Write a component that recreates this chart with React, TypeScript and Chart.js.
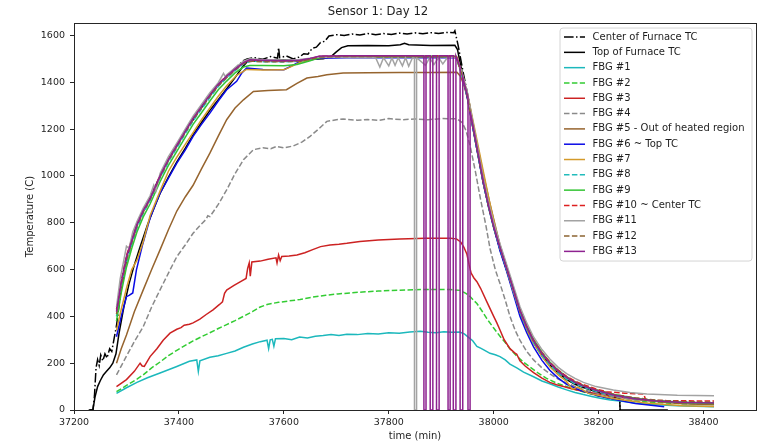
import React, { useEffect, useRef } from 'react';
import { Chart, registerables } from 'chart.js';

Chart.register(...registerables);

type Pt = [number, number];

// time (min), temperature (C)
const centerTc: Pt[] = [
  [37228, 0], [37236, 0], [37239, 60], [37242, 180], [37245, 215], [37248, 190], [37251, 235], [37255, 210],
  [37259, 240], [37263, 222], [37268, 262], [37272, 250], [37276, 300], [37281, 360], [37290, 520], [37300, 640],
  [37310, 720], [37320, 790], [37332, 850], [37345, 905], [37364, 1000], [37380, 1070], [37396, 1128], [37412, 1190],
  [37427, 1240], [37443, 1292], [37459, 1342], [37475, 1390], [37491, 1425], [37507, 1460], [37523, 1492], [37530, 1500],
  [37545, 1505], [37560, 1498], [37575, 1510], [37588, 1503], [37590, 1548], [37592, 1505], [37605, 1512], [37618, 1500],
  [37630, 1508], [37638, 1522], [37646, 1520], [37654, 1545], [37662, 1550], [37670, 1570], [37678, 1575], [37686, 1598],
  [37700, 1603], [37715, 1600], [37730, 1606], [37745, 1602], [37760, 1608], [37775, 1603], [37790, 1608], [37805, 1604],
  [37820, 1610], [37835, 1606], [37850, 1611], [37865, 1607], [37880, 1612], [37895, 1608], [37910, 1613], [37924, 1612],
  [37926, 1620], [37932, 1560], [37942, 1440], [37952, 1330], [37962, 1200], [37972, 1080], [37982, 965], [37992, 865],
  [38002, 775], [38012, 690], [38025, 600], [38037, 515], [38050, 420], [38063, 350], [38076, 292], [38092, 238],
  [38107, 198], [38123, 162], [38139, 135], [38155, 115], [38171, 100], [38195, 80], [38220, 62], [38240, 52], [38241, 0],
];

const topTc: Pt[] = [
  [37230, 0], [37236, 0], [37240, 55], [37245, 100], [37250, 125], [37256, 150], [37262, 165], [37268, 180],
  [37274, 200], [37280, 240], [37286, 330], [37295, 440], [37305, 540], [37315, 620], [37325, 690], [37340, 790],
  [37352, 860], [37364, 925], [37380, 995], [37396, 1060], [37412, 1118], [37427, 1175], [37443, 1228], [37459, 1280],
  [37475, 1325], [37491, 1372], [37507, 1420], [37520, 1462], [37530, 1488], [37560, 1494], [37600, 1496], [37640, 1497],
  [37675, 1500], [37690, 1510], [37700, 1530], [37710, 1548], [37722, 1556], [37760, 1557], [37800, 1556], [37822, 1560],
  [37830, 1566], [37838, 1560], [37880, 1557], [37926, 1558], [37931, 1540], [37940, 1440], [37950, 1335], [37960, 1210],
  [37970, 1090], [37980, 970], [37990, 870], [38000, 780], [38012, 685], [38025, 595], [38037, 510], [38050, 415],
  [38063, 345], [38076, 288], [38092, 232], [38107, 192], [38123, 158], [38139, 130], [38155, 110], [38171, 96],
  [38195, 78], [38220, 60], [38240, 50], [38241, 0], [38332, 0],
];

const fbg1: Pt[] = [
  [37281, 71], [37300, 95], [37320, 118], [37340, 138], [37364, 158], [37396, 186], [37420, 208], [37434, 214],
  [37437, 165], [37440, 210], [37459, 225], [37475, 232], [37491, 242], [37507, 252], [37523, 268], [37540, 282],
  [37555, 292], [37568, 298], [37571, 262], [37574, 300], [37578, 302], [37581, 272], [37584, 304], [37600, 305],
  [37615, 300], [37630, 312], [37645, 308], [37660, 315], [37675, 318], [37690, 322], [37705, 318], [37720, 324],
  [37740, 322], [37760, 327], [37780, 325], [37800, 330], [37820, 328], [37840, 333], [37860, 336], [37875, 332],
  [37890, 330], [37905, 334], [37920, 332], [37935, 333], [37944, 325], [37952, 310], [37960, 296], [37968, 272],
  [37975, 264], [37982, 256], [37993, 242], [38003, 236], [38012, 228], [38022, 214], [38031, 196], [38044, 180],
  [38057, 162], [38076, 142], [38092, 124], [38107, 112], [38123, 98], [38139, 86], [38155, 75], [38171, 66],
  [38187, 58], [38203, 50], [38222, 43], [38241, 38], [38270, 30], [38300, 24], [38350, 18], [38420, 14],
];

const fbg2: Pt[] = [
  [37281, 78], [37300, 105], [37320, 132], [37332, 150], [37348, 180], [37364, 205], [37380, 232], [37396, 255],
  [37412, 276], [37427, 295], [37443, 313], [37459, 330], [37475, 348], [37491, 365], [37507, 382], [37523, 400],
  [37540, 420], [37555, 440], [37570, 452], [37590, 460], [37610, 466], [37631, 472], [37655, 482], [37680, 490],
  [37703, 496], [37726, 500], [37750, 504], [37780, 508], [37821, 512], [37870, 515], [37917, 515], [37936, 511],
  [37947, 498], [37955, 485], [37962, 468], [37968, 455], [37978, 422], [37987, 390], [38000, 350], [38012, 315],
  [38022, 288], [38031, 262], [38044, 230], [38057, 204], [38070, 182], [38085, 158], [38100, 136], [38120, 115],
  [38139, 100], [38155, 88], [38170, 78], [38187, 67], [38203, 58], [38225, 48], [38250, 42], [38300, 33],
  [38360, 27], [38420, 25],
];

const fbg3: Pt[] = [
  [37281, 100], [37300, 130], [37315, 165], [37326, 200], [37330, 188], [37334, 186], [37345, 228], [37358, 262],
  [37370, 298], [37383, 328], [37396, 345], [37404, 352], [37410, 362], [37420, 366], [37427, 372], [37440, 388],
  [37452, 408], [37465, 428], [37478, 452], [37483, 462], [37487, 498], [37491, 512], [37505, 532], [37520, 552],
  [37528, 562], [37531, 605], [37534, 628], [37536, 572], [37539, 632], [37555, 636], [37570, 644], [37585, 650],
  [37587, 628], [37590, 662], [37593, 638], [37596, 656], [37610, 658], [37625, 662], [37640, 672], [37655, 685],
  [37670, 698], [37688, 705], [37705, 708], [37720, 712], [37745, 720], [37780, 726], [37821, 731], [37870, 734],
  [37917, 734], [37929, 731], [37937, 718], [37943, 696], [37949, 665], [37953, 622], [37957, 585], [37962, 565],
  [37968, 548], [37975, 520], [37987, 462], [38000, 400], [38006, 372], [38012, 342], [38020, 300], [38031, 262],
  [38040, 244], [38044, 238], [38050, 210], [38060, 188], [38076, 160], [38092, 136], [38107, 118], [38120, 108],
  [38133, 100], [38150, 90], [38170, 80], [38200, 68], [38228, 58], [38260, 48], [38300, 40], [38360, 33], [38420, 30],
];

const fbg4: Pt[] = [
  [37281, 150], [37300, 230], [37315, 292], [37332, 356], [37348, 440], [37364, 513], [37380, 585], [37396, 655],
  [37412, 705], [37427, 755], [37443, 795], [37452, 815], [37455, 830], [37459, 826], [37475, 878], [37491, 940],
  [37507, 1010], [37523, 1069], [37542, 1112], [37560, 1120], [37575, 1116], [37586, 1126], [37600, 1120], [37618, 1128],
  [37635, 1145], [37650, 1169], [37666, 1200], [37682, 1233], [37700, 1240], [37713, 1243], [37740, 1238], [37760, 1241],
  [37780, 1237], [37800, 1245], [37825, 1240], [37850, 1243], [37875, 1240], [37900, 1245], [37930, 1244], [37940, 1228],
  [37947, 1195], [37955, 1130], [37965, 1020], [37975, 900], [37985, 790], [37993, 690], [38003, 600], [38012, 540],
  [38022, 470], [38031, 400], [38041, 340], [38050, 298], [38063, 250], [38076, 214], [38092, 180], [38107, 155],
  [38123, 132], [38139, 115], [38160, 96], [38180, 82], [38205, 68], [38230, 56], [38260, 46], [38300, 38],
  [38360, 31], [38420, 28],
];

const fbg5: Pt[] = [
  [37281, 200], [37290, 262], [37300, 320], [37315, 420], [37332, 513], [37348, 600], [37364, 684], [37380, 770],
  [37396, 850], [37412, 910], [37427, 960], [37443, 1030], [37459, 1097], [37475, 1170], [37491, 1240], [37507, 1290],
  [37523, 1325], [37542, 1361], [37570, 1365], [37605, 1368], [37625, 1395], [37644, 1418], [37665, 1425], [37682, 1432],
  [37713, 1440], [37760, 1441], [37820, 1442], [37880, 1442], [37930, 1443], [37937, 1425], [37945, 1375], [37955, 1285],
  [37968, 1140], [37980, 1010], [37993, 880], [38006, 760], [38012, 705], [38025, 612], [38037, 522], [38050, 432],
  [38063, 362], [38076, 302], [38092, 246], [38107, 202], [38123, 166], [38139, 138], [38160, 112], [38190, 88],
  [38230, 65], [38270, 48], [38310, 36], [38360, 27], [38420, 22],
];

const fbg6: Pt[] = [
  [37281, 313], [37290, 400], [37300, 484], [37305, 490], [37312, 500], [37319, 599], [37330, 700], [37345, 820],
  [37364, 926], [37380, 990], [37396, 1055], [37412, 1110], [37427, 1169], [37443, 1220], [37459, 1268], [37475, 1320],
  [37491, 1368], [37510, 1404], [37520, 1440], [37529, 1461], [37560, 1455], [37600, 1454], [37615, 1470], [37631, 1489],
  [37669, 1503], [37720, 1505], [37800, 1505], [37880, 1505], [37930, 1506], [37940, 1430], [37950, 1330], [37960, 1210],
  [37970, 1090], [37980, 970], [37990, 870], [38000, 780], [38012, 680], [38025, 590], [38037, 500], [38050, 400],
  [38063, 330], [38076, 270], [38092, 212], [38107, 170], [38123, 136], [38139, 110], [38165, 84], [38200, 60],
  [38241, 40], [38270, 28], [38300, 20], [38325, 14],
];

const fbg7: Pt[] = [
  [37281, 340], [37290, 430], [37300, 520], [37310, 600], [37320, 640], [37332, 720], [37345, 830], [37364, 935],
  [37380, 1020], [37396, 1080], [37412, 1135], [37427, 1185], [37443, 1240], [37459, 1290], [37475, 1340], [37491, 1385],
  [37510, 1430], [37529, 1455], [37560, 1452], [37600, 1453], [37615, 1468], [37631, 1485], [37669, 1506], [37720, 1508],
  [37800, 1508], [37880, 1509], [37930, 1508], [37942, 1420], [37952, 1330], [37962, 1220], [37972, 1110], [37982, 1000],
  [37992, 890], [38002, 790], [38012, 700], [38025, 600], [38037, 510], [38050, 420], [38063, 345], [38076, 285],
  [38092, 228], [38107, 185], [38123, 150], [38139, 122], [38150, 88], [38160, 98], [38180, 72], [38230, 48],
  [38290, 30], [38360, 18], [38420, 15],
];

const fbg8: Pt[] = [
  [37281, 400], [37290, 520], [37300, 630], [37310, 705], [37320, 775], [37332, 840], [37345, 895], [37364, 990],
  [37380, 1060], [37396, 1120], [37412, 1180], [37427, 1235], [37443, 1285], [37459, 1335], [37475, 1382], [37491, 1418],
  [37507, 1450], [37523, 1478], [37535, 1490], [37560, 1488], [37600, 1487], [37630, 1490], [37650, 1498], [37669, 1508],
  [37720, 1510], [37800, 1510], [37880, 1511], [37928, 1510], [37940, 1425], [37950, 1335], [37960, 1212], [37970, 1092],
  [37980, 972], [37990, 868], [38000, 778], [38012, 688], [38025, 598], [38037, 512], [38050, 418], [38063, 348],
  [38076, 288], [38092, 233], [38107, 193], [38123, 158], [38139, 132], [38155, 112], [38171, 97], [38195, 80],
  [38230, 62], [38270, 48], [38310, 40], [38360, 33], [38420, 30],
];

const fbg9: Pt[] = [
  [37281, 380], [37290, 500], [37300, 610], [37310, 690], [37320, 760], [37332, 825], [37345, 880], [37364, 975],
  [37380, 1045], [37396, 1105], [37412, 1165], [37427, 1220], [37443, 1270], [37459, 1320], [37475, 1368], [37491, 1405],
  [37507, 1440], [37523, 1465], [37535, 1472], [37560, 1472], [37600, 1471], [37625, 1476], [37650, 1492], [37669, 1506],
  [37720, 1510], [37800, 1510], [37880, 1510], [37928, 1510], [37940, 1432], [37950, 1342], [37960, 1222], [37970, 1100],
  [37980, 982], [37990, 878], [38000, 790], [38012, 700], [38025, 610], [38037, 525], [38050, 432], [38063, 362],
  [38076, 300], [38092, 245], [38107, 205], [38123, 170], [38139, 142], [38155, 120], [38171, 104], [38195, 86],
  [38230, 66], [38270, 50], [38310, 40], [38360, 32], [38420, 28],
];

const fbg10: Pt[] = [
  [37281, 430], [37290, 550], [37300, 660], [37310, 728], [37320, 795], [37332, 855], [37345, 905], [37364, 1002],
  [37380, 1072], [37396, 1132], [37412, 1192], [37427, 1248], [37443, 1298], [37459, 1348], [37475, 1393], [37491, 1428],
  [37507, 1458], [37523, 1485], [37535, 1495], [37560, 1493], [37600, 1491], [37630, 1493], [37650, 1501], [37669, 1511],
  [37720, 1513], [37800, 1513], [37880, 1513], [37928, 1513], [37940, 1435], [37950, 1345], [37960, 1222], [37970, 1102],
  [37980, 982], [37990, 878], [38000, 788], [38012, 698], [38025, 608], [38037, 522], [38050, 428], [38063, 358],
  [38076, 298], [38092, 244], [38107, 204], [38123, 170], [38139, 144], [38155, 124], [38171, 108], [38195, 90],
  [38215, 78], [38250, 72], [38286, 68], [38290, 42], [38330, 40], [38420, 38],
];

const fbg11: Pt[] = [
  [37281, 440], [37288, 560], [37295, 640], [37300, 700], [37305, 690], [37312, 760], [37320, 805], [37332, 862],
  [37345, 915], [37352, 960], [37356, 935], [37364, 1010], [37380, 1082], [37396, 1140], [37412, 1200], [37427, 1255],
  [37443, 1305], [37459, 1355], [37475, 1398], [37485, 1438], [37488, 1425], [37491, 1432], [37507, 1462], [37523, 1490],
  [37535, 1500], [37560, 1497], [37600, 1495], [37630, 1497], [37650, 1503], [37669, 1508], [37720, 1506], [37775, 1505],
  [37783, 1465], [37790, 1505], [37800, 1470], [37806, 1504], [37812, 1472], [37818, 1505], [37826, 1470], [37832, 1505],
  [37838, 1468], [37845, 1504], [37849, 1504], [37849, 0], [37853, 0], [37853, 1505], [37870, 1472], [37878, 1505],
  [37886, 1475], [37895, 1505], [37903, 1478], [37912, 1506], [37928, 1508], [37940, 1440], [37950, 1355], [37960, 1235],
  [37970, 1115], [37980, 995], [37990, 890], [38000, 800], [38012, 710], [38025, 620], [38037, 535], [38050, 442],
  [38063, 372], [38076, 312], [38092, 258], [38107, 218], [38123, 182], [38139, 155], [38155, 135], [38171, 118],
  [38195, 100], [38228, 85], [38260, 75], [38292, 68], [38350, 63], [38420, 61],
];

const fbg12: Pt[] = [
  [37281, 410], [37290, 530], [37300, 640], [37310, 715], [37320, 785], [37332, 845], [37345, 898], [37364, 995],
  [37380, 1065], [37396, 1125], [37412, 1185], [37427, 1240], [37443, 1290], [37459, 1340], [37475, 1385], [37491, 1420],
  [37507, 1452], [37523, 1480], [37535, 1490], [37560, 1488], [37600, 1488], [37630, 1490], [37650, 1498], [37669, 1508],
  [37720, 1510], [37800, 1510], [37880, 1510], [37928, 1510], [37940, 1428], [37950, 1338], [37960, 1215], [37970, 1095],
  [37980, 975], [37990, 872], [38000, 782], [38012, 692], [38025, 602], [38037, 518], [38050, 424], [38063, 354],
  [38076, 294], [38092, 240], [38107, 200], [38123, 166], [38139, 140], [38155, 120], [38171, 104], [38195, 86],
  [38230, 66], [38270, 52], [38310, 42], [38360, 36], [38420, 33],
];

const fbg13: Pt[] = [
  [37281, 420], [37290, 545], [37300, 655], [37310, 722], [37320, 792], [37332, 852], [37345, 903], [37364, 1000],
  [37380, 1070], [37396, 1130], [37412, 1190], [37427, 1246], [37443, 1296], [37459, 1346], [37475, 1391], [37491, 1426],
  [37507, 1456], [37523, 1484], [37535, 1496], [37560, 1494], [37600, 1492], [37630, 1494], [37650, 1502], [37669, 1512],
  [37720, 1513], [37800, 1513], [37867, 1513], [37867, 0], [37871, 0], [37871, 1513], [37879, 1513], [37879, 0],
  [37884, 0], [37884, 1513], [37891, 1513], [37891, 0], [37896, 0], [37896, 1513], [37913, 1513], [37913, 0],
  [37917, 0], [37917, 1513], [37923, 1513], [37923, 0], [37928, 0], [37928, 1512], [37936, 1465], [37936, 0],
  [37941, 0], [37941, 1420], [37951, 1335], [37951, 0], [37955, 0], [37955, 1275], [37962, 1195], [37970, 1098],
  [37980, 978], [37990, 874], [38000, 784], [38012, 694], [38025, 604], [38037, 519], [38050, 425], [38063, 355],
  [38076, 295], [38092, 241], [38107, 201], [38123, 166], [38139, 139], [38155, 118], [38171, 102], [38195, 84],
  [38230, 63], [38270, 48], [38310, 38], [38360, 32], [38420, 30],
];

const FONT = '"DejaVu Sans", sans-serif';
const TEXT = '#1e1e1e';

const DASHED = [5.5, 2.4];
const DASH_DOT = [9.6, 2.4, 1.5, 2.4];

const series = [
  { label: 'Center of Furnace TC', data: centerTc, color: '#000000', dash: DASH_DOT },
  { label: 'Top of Furnace TC', data: topTc, color: '#000000', dash: [] as number[] },
  { label: 'FBG #1', data: fbg1, color: '#1cb8bc', dash: [] as number[] },
  { label: 'FBG #2', data: fbg2, color: '#33cc33', dash: DASHED },
  { label: 'FBG #3', data: fbg3, color: '#cc2222', dash: [] as number[] },
  { label: 'FBG #4', data: fbg4, color: '#8a8a8a', dash: DASHED },
  { label: 'FBG #5 - Out of heated region', data: fbg5, color: '#96642e', dash: [] as number[] },
  { label: 'FBG #6 ~ Top TC', data: fbg6, color: '#0a0ae6', dash: [] as number[] },
  { label: 'FBG #7', data: fbg7, color: '#d49a2a', dash: [] as number[] },
  { label: 'FBG #8', data: fbg8, color: '#22bcbc', dash: DASHED },
  { label: 'FBG #9', data: fbg9, color: '#33c433', dash: [] as number[] },
  { label: 'FBG #10 ~ Center TC', data: fbg10, color: '#dd2020', dash: DASHED },
  { label: 'FBG #11', data: fbg11, color: '#a3a3a3', dash: [] as number[] },
  { label: 'FBG #12', data: fbg12, color: '#8c6432', dash: DASHED },
  { label: 'FBG #13', data: fbg13, color: '#8e2290', dash: [] as number[] },
];

// Full rectangular frame around the plotting area
const framePlugin = {
  id: 'frame',
  afterDatasetsDraw(chart: any) {
    const { ctx, chartArea: a } = chart;
    ctx.save();
    ctx.strokeStyle = '#262626';
    ctx.lineWidth = 1;
    ctx.strokeRect(Math.round(a.left) + 0.5, Math.round(a.top) + 0.5,
      Math.round(a.right - a.left), Math.round(a.bottom - a.top));
    ctx.restore();
  },
};

// Boxed legend in the upper-right corner of the plotting area
const boxLegendPlugin = {
  id: 'boxLegend',
  afterDraw(chart: any) {
    const { ctx, chartArea: a } = chart;
    const sets = chart.data.datasets;
    const rowH = 15.31;
    const boxW = 192;
    const boxH = 233;
    const x0 = a.right - 4 - boxW;
    const y0 = a.top + 5;
    const r = 3;
    ctx.save();
    ctx.beginPath();
    ctx.moveTo(x0 + r, y0);
    ctx.lineTo(x0 + boxW - r, y0);
    ctx.arcTo(x0 + boxW, y0, x0 + boxW, y0 + r, r);
    ctx.lineTo(x0 + boxW, y0 + boxH - r);
    ctx.arcTo(x0 + boxW, y0 + boxH, x0 + boxW - r, y0 + boxH, r);
    ctx.lineTo(x0 + r, y0 + boxH);
    ctx.arcTo(x0, y0 + boxH, x0, y0 + boxH - r, r);
    ctx.lineTo(x0, y0 + r);
    ctx.arcTo(x0, y0, x0 + r, y0, r);
    ctx.closePath();
    ctx.fillStyle = 'rgba(255,255,255,0.85)';
    ctx.fill();
    ctx.strokeStyle = '#d4d4d4';
    ctx.lineWidth = 1;
    ctx.stroke();

    ctx.font = `10px ${FONT}`;
    ctx.textBaseline = 'middle';
    ctx.textAlign = 'left';
    sets.forEach((ds: any, i: number) => {
      const y = y0 + 9 + i * rowH;
      ctx.strokeStyle = ds.borderColor;
      ctx.lineWidth = 1.5;
      ctx.setLineDash(ds.borderDash || []);
      ctx.beginPath();
      ctx.moveTo(x0 + 4, y);
      ctx.lineTo(x0 + 25, y);
      ctx.stroke();
      ctx.setLineDash([]);
      ctx.fillStyle = TEXT;
      ctx.fillText(ds.label, x0 + 32.5, y);
    });
    ctx.restore();
  },
};

export default function App() {
  const canvasRef = useRef<HTMLCanvasElement | null>(null);

  useEffect(() => {
    const canvas = canvasRef.current;
    if (!canvas) return;

    const datasets = series.map((s, i) => ({
      label: s.label,
      data: s.data.map(([x, y]) => ({ x, y })),
      borderColor: s.color,
      backgroundColor: s.color,
      borderDash: s.dash,
      borderWidth: 1.5,
      pointRadius: 0,
      pointHoverRadius: 0,
      tension: 0,
      fill: false,
      order: -i,
    }));

    const tickFont = { family: FONT, size: 9.5 };
    const titleFont = { family: FONT, size: 10 };

    const chart = new Chart(canvas, {
      type: 'line',
      data: { datasets },
      options: {
        responsive: false,
        maintainAspectRatio: false,
        animation: false,
        events: [],
        layout: { padding: { left: 0, right: 13, top: 0, bottom: 0 } },
        plugins: {
          legend: { display: false },
          tooltip: { enabled: false },
          title: {
            display: true,
            text: 'Sensor 1: Day 12',
            color: TEXT,
            font: { family: FONT, size: 11.7, weight: 'normal' },
            padding: { top: 5, bottom: 4 },
          },
        },
        scales: {
          x: {
            type: 'linear',
            min: 37200,
            max: 38500,
            afterFit: (scale: any) => { scale.height = 32; },
            ticks: {
              stepSize: 200,
              includeBounds: false,
              autoSkip: false,
              maxRotation: 0,
              padding: 3,
              color: TEXT,
              font: tickFont,
              callback: (v: any) => String(v),
            },
            grid: { display: true, drawOnChartArea: false, drawTicks: true, tickLength: 4, color: '#262626' },
            border: { display: false },
            title: { display: true, text: 'time (min)', color: TEXT, font: titleFont, padding: { top: 0, bottom: 0 } },
          },
          y: {
            type: 'linear',
            min: 0,
            max: 1653,
            afterFit: (scale: any) => { scale.width = 74; },
            ticks: {
              stepSize: 200,
              includeBounds: false,
              autoSkip: false,
              padding: 5,
              color: TEXT,
              font: tickFont,
              callback: (v: any) => String(v),
            },
            grid: { display: true, drawOnChartArea: false, drawTicks: true, tickLength: 4, color: '#262626' },
            border: { display: false },
            title: { display: true, text: 'Temperature (C)', color: TEXT, font: titleFont, padding: { top: 24, bottom: 0 } },
          },
        },
      },
      plugins: [framePlugin, boxLegendPlugin],
    } as any);

    return () => chart.destroy();
  }, []);

  return (
    <div style={{ position: 'fixed', left: 0, top: 0, width: 769, height: 442, background: '#ffffff' }}>
      <canvas ref={canvasRef} width={769} height={442} style={{ display: 'block' }} />
    </div>
  );
}
